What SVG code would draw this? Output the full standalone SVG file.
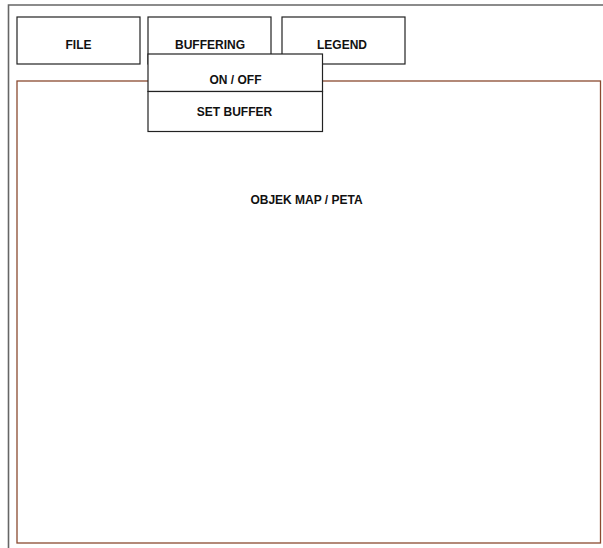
<svg xmlns="http://www.w3.org/2000/svg" width="603" height="548" viewBox="0 0 603 548">
<style>
.box{fill:#fff;stroke:#222;stroke-width:1.2}
.frame{fill:none;stroke:#666;stroke-width:1.6}
.map{fill:#fff;stroke:#8a4a30;stroke-width:1.3}
.lbl{font-family:"Liberation Sans",Arial,sans-serif;font-weight:bold;font-size:12px;fill:#111;text-anchor:middle}
</style>
<rect width="603" height="548" fill="#fff"/>
<g id="frame"><path class="frame" d="M8.5,548 V5 H603"/></g>
<g id="map"><rect class="map" x="17" y="81" width="583.5" height="462"/><text class="lbl" x="306.5" y="204">OBJEK MAP / PETA</text></g>
<g id="file"><rect class="box" x="17" y="17" width="123" height="47"/><text class="lbl" x="78.5" y="49">FILE</text></g>
<g id="buffering"><rect class="box" x="148" y="17" width="123" height="47"/><text class="lbl" x="210" y="49">BUFFERING</text></g>
<g id="legend"><rect class="box" x="282" y="17" width="123" height="47"/><text class="lbl" x="342" y="49">LEGEND</text></g>
<g id="onoff"><rect class="box" x="148" y="54" width="174.5" height="37.5"/><text class="lbl" x="235.5" y="84">ON / OFF</text></g>
<g id="setbuffer"><rect class="box" x="148" y="91.5" width="174.5" height="40"/><text class="lbl" x="234.5" y="116">SET BUFFER</text></g>
<g id="connectors"></g>
</svg>
